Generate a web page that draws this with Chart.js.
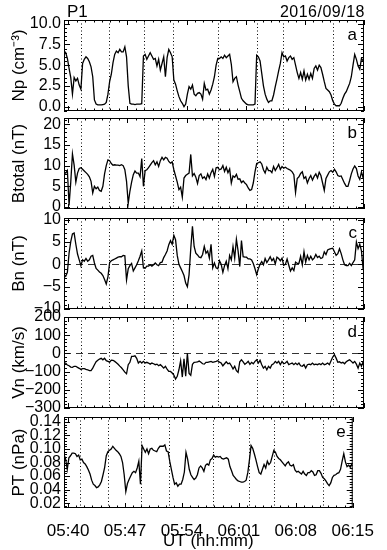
<!DOCTYPE html>
<html><head><meta charset="utf-8">
<script src="https://cdn.jsdelivr.net/npm/chart.js@4.4.1/dist/chart.umd.min.js"></script>
<style>
html,body{margin:0;padding:0;background:#fff;}
#wrap{position:relative;width:387px;height:550px;background:#fff;}
canvas{position:absolute;left:0;top:0;}
</style></head><body><div id="wrap">
<canvas id="ca" width="387" height="550"></canvas>
<canvas id="cb" width="387" height="550"></canvas>
<canvas id="cc" width="387" height="550"></canvas>
<canvas id="cd" width="387" height="550"></canvas>
<canvas id="ce" width="387" height="550"></canvas>
</div>
<script>
// time grid: minutes after 05:40 UT, first sample 05:39:30, one sample every 12 s
const startMin = -0.5;
const stepMin = 0.2;

const npValues = [
6.7,6.5,5.8,4.6,3.5,1.5,3.5,3.1,3.4,2.6,
2.1,5.2,5.7,6.0,5.8,5.4,4.8,3.6,0.8,0.3,
0.2,0.2,0.2,0.25,0.3,0.5,1.5,3.0,3.9,5.3,
6.3,6.7,6.5,6.9,6.6,6.6,7.2,6.0,2.5,0.4,
0.3,0.3,0.25,0.3,0.3,0.3,0.35,6.1,6.3,5.7,
6.1,6.5,6.1,5.7,5.8,4.9,5.7,4.4,5.2,6.0,
3.6,5.9,6.9,6.5,6.0,3.2,2.7,1.9,1.2,0.7,
0.4,0.0,0.3,1.5,2.4,2.1,2.6,1.5,1.3,1.6,
1.7,1.5,0.9,2.8,2.0,2.1,1.5,2.0,2.7,3.6,
5.0,5.8,5.8,6.0,5.8,6.2,5.9,6.1,6.3,5.1,
3.0,3.4,3.6,2.6,1.8,1.0,0.7,0.5,0.3,0.2,
0.2,0.2,0.2,0.3,6.2,6.0,5.5,4.0,2.5,1.5,
0.9,0.5,0.7,0.7,1.4,2.4,3.3,4.3,5.2,6.5,
6.0,6.1,5.5,5.9,6.1,5.7,5.9,5.0,4.1,3.4,
4.1,3.3,4.3,3.2,3.9,3.3,4.0,3.4,4.6,4.9,
4.4,5.0,4.7,3.9,3.0,2.2,2.0,1.8,1.4,0.7,
0.3,0.1,0.1,0.1,0.4,1.0,1.5,1.8,2.3,2.8,
3.6,5.0,6.3,5.7,4.9,4.5,5.8,5.5];

const btValues = [
8.5,8.2,8.8,0.4,6.0,12.8,10.1,6.0,8.2,9.3,
9.5,9.1,8.7,8.3,7.9,7.3,6.2,3.4,5.0,4.4,
4.8,4.0,3.8,5.0,8.0,10.0,11.4,11.2,10.5,10.1,
10.2,10.1,10.1,10.0,10.2,10.0,9.0,6.2,0.9,3.8,
6.0,7.8,8.7,8.2,8.2,7.3,11.7,5.0,8.8,9.0,
9.5,10.1,10.7,11.2,10.2,10.9,9.8,11.2,12.0,11.4,
12.0,11.8,11.0,10.6,10.9,9.0,7.5,6.0,4.2,4.8,
2.4,7.0,7.6,7.9,8.2,12.7,7.5,8.1,7.2,5.7,
7.6,8.0,6.9,7.3,6.6,8.0,7.0,8.3,9.1,7.4,
9.5,9.6,9.0,9.2,10.0,8.6,9.6,8.3,9.2,5.8,
7.5,7.2,7.9,6.7,6.8,5.9,6.3,5.8,5.4,4.6,
4.0,4.2,5.8,8.5,10.5,10.7,10.9,10.4,9.0,8.2,
9.6,8.8,8.8,8.3,9.8,8.8,9.5,10.3,9.1,9.8,
9.4,9.6,9.3,9.1,8.9,8.5,7.8,3.5,6.9,7.3,
8.1,8.5,6.9,7.3,5.8,6.9,7.6,6.5,7.4,8.0,
7.0,8.4,7.6,5.8,4.0,6.9,7.7,8.5,8.8,8.4,
9.1,8.5,7.6,7.4,7.5,6.6,5.7,5.0,5.0,6.4,
8.0,9.2,9.9,9.3,7.5,6.7,8.5,7.0];

const bnValues = [
-2.3,-2.7,-1.8,2.5,5.1,6.8,7.0,4.5,2.3,1.0,
-0.3,1.0,0.7,1.3,0.7,1.0,1.8,2.0,0.3,-0.9,
-1.3,-1.7,-2.0,-2.5,-3.4,-4.4,-2.8,0.4,0.8,1.0,
1.2,1.4,1.6,1.7,1.7,2.0,1.9,-3.5,-1.0,-0.3,
0.2,-1.5,-0.8,-0.1,0.8,1.8,3.0,-0.8,-0.9,-0.4,
-0.4,-0.1,-0.4,-0.1,0.3,-0.1,-0.3,0.4,0.5,1.5,
2.2,3.0,4.4,5.3,4.5,6.5,5.5,2.0,0.0,-0.8,
-1.6,-2.5,-4.2,-5.0,-2.3,3.5,8.5,4.0,2.5,2.1,
1.6,1.5,2.2,4.0,2.5,3.0,1.4,4.5,-0.8,0.3,
-0.8,-1.0,0.8,0.0,-1.8,-0.3,0.7,-1.0,2.0,1.0,
4.0,1.4,5.6,3.0,-0.5,5.3,1.7,1.6,1.6,1.2,
1.2,1.0,0.2,-1.0,-2.3,-1.0,0.0,0.6,-0.1,1.3,
0.4,1.0,1.7,0.8,1.3,0.1,1.6,1.3,0.8,1.4,
-0.2,0.0,1.2,-0.2,-1.5,-0.8,-1.4,0.5,0.2,0.2,
1.8,-0.1,2.8,0.5,2.0,1.0,1.8,1.0,1.4,2.2,
1.5,1.8,1.3,1.5,2.8,2.2,3.2,3.4,3.5,3.6,
2.8,2.0,2.4,3.5,2.4,1.0,-0.1,-0.3,-0.3,0.2,
-0.3,0.4,1.0,5.0,3.5,4.5,3.0,-1.2];

const vnValues = [
-53,-53,-64,-68,-75,-77,-71,-71,-77,-82,
-88,-84,-84,-88,-90,-95,-95,-81,-62,-46,
-38,-31,-27,-35,-27,-40,-44,-48,-37,-38,
-44,-51,-60,-70,-79,-90,-103,-112,-62,-49,
-16,-16,-13,-27,-53,-44,-53,-44,-53,-49,
-53,-59,-53,-57,-62,-59,-68,-62,-71,-81,
-71,-86,-99,-99,-108,-119,-141,-126,-90,-40,
-130,-30,-125,0,-110,-120,-60,-49,-48,-46,
-42,-49,-57,-59,-49,-49,-46,-44,-49,-46,
-44,-40,-48,-53,-68,-57,-46,-57,-53,-68,
-86,-71,-95,-104,-46,-35,-46,-60,-53,-44,
-60,-49,-57,-44,-35,-53,-38,-62,-81,-71,
-90,-71,-81,-62,-57,-44,-53,-44,-62,-44,
-57,-53,-44,-62,-57,-53,-62,-53,-62,-53,
-68,-71,-62,-81,-62,-59,-62,-53,-62,-59,
-62,-57,-62,-53,-62,-59,-53,-62,-40,-20,
-7,-26,-49,-46,-53,-49,-57,-46,-40,-35,
-44,-53,-44,-59,-81,-53,-71,-44];

const ptValues = [
0.092,0.085,0.070,0.087,0.090,0.094,0.094,0.093,0.089,0.091,
0.084,0.085,0.080,0.078,0.074,0.069,0.063,0.054,0.048,0.046,
0.043,0.044,0.047,0.052,0.062,0.073,0.090,0.096,0.098,0.100,
0.104,0.101,0.098,0.096,0.093,0.089,0.080,0.062,0.037,0.049,
0.055,0.060,0.065,0.067,0.065,0.072,0.082,0.048,0.105,0.100,
0.095,0.100,0.093,0.100,0.101,0.098,0.097,0.096,0.101,0.104,
0.104,0.104,0.106,0.097,0.096,0.082,0.070,0.058,0.048,0.050,
0.045,0.048,0.048,0.055,0.066,0.095,0.085,0.070,0.062,0.058,
0.055,0.057,0.062,0.072,0.075,0.072,0.067,0.076,0.078,0.076,
0.084,0.086,0.091,0.088,0.089,0.088,0.089,0.086,0.085,0.086,
0.087,0.085,0.074,0.068,0.061,0.058,0.055,0.053,0.052,0.051,
0.051,0.052,0.054,0.065,0.084,0.105,0.101,0.093,0.084,0.074,
0.065,0.063,0.070,0.077,0.072,0.082,0.077,0.080,0.089,0.098,
0.095,0.089,0.086,0.084,0.081,0.078,0.075,0.079,0.081,0.076,
0.075,0.077,0.069,0.066,0.067,0.065,0.063,0.067,0.063,0.061,
0.065,0.065,0.068,0.066,0.061,0.062,0.068,0.068,0.064,0.058,
0.056,0.053,0.049,0.046,0.050,0.058,0.061,0.062,0.064,0.065,
0.070,0.082,0.093,0.081,0.074,0.076,0.073,0.078];

// dotted event markers (minutes after 05:40)
const eventTimes = [1.47, 4.86, 8.97, 12.4, 17.76, 22.3, 25.38, 31.37];

// axis ticks
const xTickValues = [0, 7, 14, 21, 28, 35];
const xTickLabels = ['05:40', '05:47', '05:54', '06:01', '06:08', '06:15'];
const npTicks = [0, 2.5, 5, 7.5, 10];
const npTickLabels = ['0.0', '2.5', '5.0', '7.5', '10.0'];
const btTicks = [0, 5, 10, 15, 20];
const btTickLabels = ['0', '5', '10', '15', '20'];
const bnTicks = [-10, -5, 0, 5, 10];
const bnTickLabels = ['\u221210', '\u22125', '0', '5', '10'];
const vnTicks = [-300, -200, -100, 0, 100, 200];
const vnTickLabels = ['\u2212300', '\u2212200', '\u2212100', '0', '100', '200'];
const ptTicks = [0.02, 0.04, 0.06, 0.08, 0.10, 0.12, 0.14];
const ptTickLabels = ['0.02', '0.04', '0.06', '0.08', '0.10', '0.12', '0.14'];

const FONT = "'Liberation Sans', Arial, sans-serif";
const W = 387, H = 550;
const xMin = -0.5, xMax = 35.0;

const panels = [
  {id:'ca', values:npValues, ticks:npTicks, labels:npTickLabels, min:-0.53, max:10.44, minor:0.5, top:20, bottom:111, title:'Np (cm\u207B\u00B3)', letter:'a', zero:false},
  {id:'cb', values:btValues, ticks:btTicks, labels:btTickLabels, min:-0.48, max:21.5, minor:1, top:118, bottom:209, title:'Btotal (nT)', letter:'b', zero:false},
  {id:'cc', values:bnValues, ticks:bnTicks, labels:bnTickLabels, min:-10.0, max:10.37, minor:1, top:218, bottom:309, title:'Bn (nT)', letter:'c', zero:true},
  {id:'cd', values:vnValues, ticks:vnTicks, labels:vnTickLabels, min:-300, max:200, minor:20, top:317, bottom:408, title:'Vn (km/s)', letter:'d', zero:true},
  {id:'ce', values:ptValues, ticks:ptTicks, labels:ptTickLabels, min:0.0129, max:0.1472, minor:0.004, top:417, bottom:508, title:'PT (nPa)', letter:'e', zero:false}
];

const deco = {
  id: 'deco',
  beforeDatasetsDraw(chart, args, o) {
    const {ctx, chartArea: a, scales: {x, y}} = chart;
    ctx.save();
    ctx.beginPath(); ctx.rect(a.left, a.top, a.right - a.left, a.bottom - a.top); ctx.clip();
    ctx.strokeStyle = '#000'; ctx.lineWidth = 1; ctx.setLineDash([1, 2.5]);
    eventTimes.forEach(t => {
      const px = Math.round(x.getPixelForValue(t)) + 0.5;
      ctx.beginPath(); ctx.moveTo(px, a.top); ctx.lineTo(px, a.bottom); ctx.stroke();
    });
    if (o.zero) {
      ctx.setLineDash([7, 5]); ctx.strokeStyle = '#333';
      const py = Math.round(y.getPixelForValue(0)) + 0.5;
      ctx.beginPath(); ctx.moveTo(a.left, py); ctx.lineTo(a.right, py); ctx.stroke();
    }
    ctx.restore();
  },
  afterDraw(chart, args, o) {
    const {ctx, chartArea: a, scales: {x, y}} = chart;
    ctx.save();
    ctx.strokeStyle = '#000'; ctx.lineWidth = 1; ctx.setLineDash([]);
    ctx.strokeRect(a.left + 0.5, a.top + 0.5, a.right - a.left - 1, a.bottom - a.top - 1);
    ctx.beginPath();
    const yMaj = 6, yMin = 3;
    const y0 = Math.ceil(y.min / o.minor - 1e-6);
    const y1 = Math.floor(y.max / o.minor + 1e-6);
    for (let k = y0; k <= y1; k++) {
      const v = k * o.minor;
      const isMaj = o.ticks.some(t => Math.abs(t - v) < o.minor * 0.01);
      const len = isMaj ? yMaj : yMin;
      const py = Math.round(y.getPixelForValue(v)) + 0.5;
      ctx.moveTo(a.left, py); ctx.lineTo(a.left + len, py);
      ctx.moveTo(a.right, py); ctx.lineTo(a.right - len, py);
    }
    for (let m = 0; m <= 35; m++) {
      const isMaj = xTickValues.includes(m);
      const len = isMaj ? 5 : 2.5;
      const px = Math.round(x.getPixelForValue(m)) + 0.5;
      ctx.moveTo(px, a.bottom); ctx.lineTo(px, a.bottom - len);
      ctx.moveTo(px, a.top); ctx.lineTo(px, a.top + len);
    }
    ctx.stroke();
    ctx.fillStyle = '#000';
    ctx.font = '17px ' + FONT;
    ctx.textAlign = 'right'; ctx.textBaseline = 'alphabetic';
    ctx.fillText(o.letter, a.right - 7, a.top + 20);
    if (o.header) {
      ctx.textAlign = 'left';
      ctx.fillText('P1', a.left + 3, a.top - 3);
      ctx.textAlign = 'right';
      ctx.font = '16px ' + FONT;
      ctx.letterSpacing = '0.5px';
      ctx.fillText('2016/09/18', a.right + 1, a.top - 3);
    }
    ctx.restore();
  }
};

panels.forEach((p, idx) => {
  const last = idx === panels.length - 1;
  const pts = p.values.map((v, i) => ({x: startMin + i * stepMin, y: v}));
  new Chart(document.getElementById(p.id), {
    type: 'line',
    data: {datasets: [{data: pts, borderColor: '#000', borderWidth: 1.3, pointRadius: 0, tension: 0, fill: false}]},
    options: {
      responsive: false, animation: false, devicePixelRatio: 1,
      layout: {padding: {left: 0, right: W - 364, top: p.top, bottom: last ? 0 : H - p.bottom}},
      plugins: {legend: {display: false}, tooltip: {enabled: false},
        deco: {zero: p.zero, letter: p.letter, ticks: p.ticks, minor: p.minor, header: idx === 0}},
      scales: {
        x: {
          type: 'linear', min: xMin, max: xMax, display: last,
          afterBuildTicks: s => { s.ticks = xTickValues.map(v => ({value: v})); },
          afterFit: s => { s.height = last ? H - 508 : 0; },
          ticks: {callback: (v, i) => xTickLabels[i], color: '#000', font: {family: FONT, size: 17}, padding: 13, maxRotation: 0, autoSkip: false},
          grid: {display: false, drawTicks: false}, border: {display: false},
          title: {display: true, text: 'UT (hh:mm)', color: '#000', font: {family: FONT, size: 17, lineHeight: 1}, padding: {top: 0, bottom: 0}}
        },
        y: {
          type: 'linear', min: p.min, max: p.max,
          afterBuildTicks: s => { s.ticks = p.ticks.map(v => ({value: v})); },
          afterFit: s => { s.width = 64; },
          ticks: {callback: (v, i) => p.labels[i], color: '#000', font: {family: FONT, size: 16}, padding: 3, autoSkip: false},
          grid: {display: false, drawTicks: false}, border: {display: false},
          title: {display: true, text: p.title, color: '#000', font: {family: FONT, size: 17, lineHeight: 1.2}, padding: {top: 9, bottom: 0}}
        }
      }
    },
    plugins: [deco]
  });
});
</script>
</body></html>
